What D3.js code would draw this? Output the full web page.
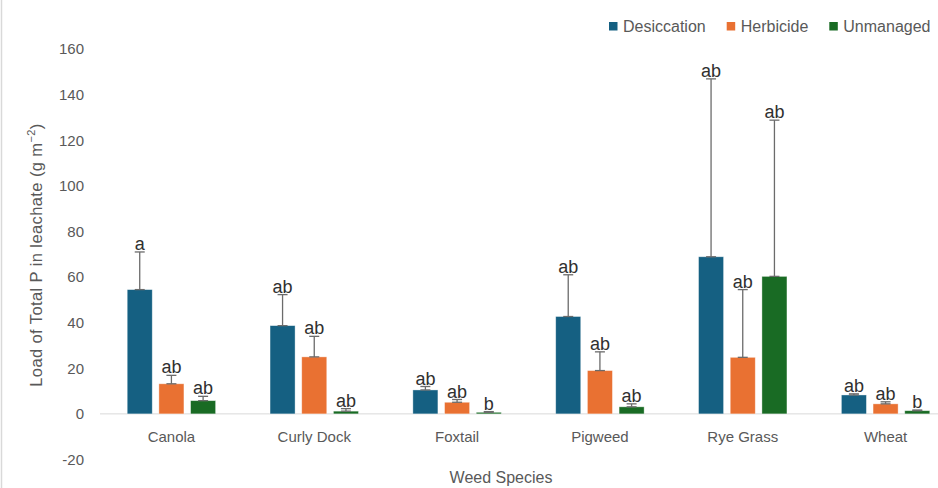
<!DOCTYPE html>
<html>
<head>
<meta charset="utf-8">
<script src="https://cdn.jsdelivr.net/npm/d3@7"></script>
<style>
  html, body { margin: 0; padding: 0; background: #fff; }
  svg { display: block; font-family: "Liberation Sans", Arial, sans-serif; }
</style>
</head>
<body>
<svg id="chart" width="938" height="488"></svg>
<script>
// ---- data ----
const categories = ["Canola", "Curly Dock", "Foxtail", "Pigweed", "Rye Grass", "Wheat"];
const seriesNames = ["Desiccation", "Herbicide", "Unmanaged"];
const desiccation = [54.5, 38.7, 10.5, 42.7, 68.9, 8.3];
const herbicide   = [13.2, 25.0, 5.1, 19.0, 24.8, 4.4];
const unmanaged   = [5.8, 1.2, 0.7, 3.1, 60.3, 1.4];
const desiccationErr = [16.5, 13.6, 1.5, 18.3, 78.0, 0.5];
const herbicideErr   = [3.7, 9.0, 1.2, 8.2, 29.7, 0.9];
const unmanagedErr   = [1.9, 1.1, 0.3, 1.3, 68.5, 0.3];
const desiccationLetters = ["a", "ab", "ab", "ab", "ab", "ab"];
const herbicideLetters   = ["ab", "ab", "ab", "ab", "ab", "ab"];
const unmanagedLetters   = ["ab", "ab", "b", "ab", "ab", "b"];
const yTicks = [-20, 0, 20, 40, 60, 80, 100, 120, 140, 160];
const colors = ["#156082", "#E97132", "#196B24"];

const series = [
  { name: seriesNames[0], values: desiccation, errs: desiccationErr, letters: desiccationLetters },
  { name: seriesNames[1], values: herbicide, errs: herbicideErr, letters: herbicideLetters },
  { name: seriesNames[2], values: unmanaged, errs: unmanagedErr, letters: unmanagedLetters }
];

const svg = d3.select("#chart");

// chart left border
svg.append("line").attr("x1", 1.5).attr("x2", 1.5).attr("y1", 0).attr("y2", 488)
  .attr("stroke", "#d9d9d9").attr("stroke-width", 1.5);

const y = d3.scaleLinear().domain([-20, 160]).range([459.5, 49]);
const x0 = d3.scaleBand().domain(categories).range([100, 957]).paddingInner(0.381).paddingOuter(0.1905);
const x1 = d3.scaleBand().domain(seriesNames).range([0, x0.bandwidth()]).paddingInner(0.21).paddingOuter(0);
const color = d3.scaleOrdinal().domain(seriesNames).range(colors);

// y axis labels
const yAxis = d3.axisLeft(y).tickValues(yTicks).tickFormat(d => String(d)).tickSize(0).tickPadding(0);
const yg = svg.append("g").attr("transform", "translate(84,0)").call(yAxis);
yg.select(".domain").remove();
yg.selectAll("text").attr("fill", "#595959").attr("font-size", 15)
  .attr("font-family", "'Liberation Sans', Arial, sans-serif");

// zero line
svg.append("line").attr("x1", 100).attr("x2", 938).attr("y1", y(0)).attr("y2", y(0))
  .attr("stroke", "#d9d9d9").attr("stroke-width", 1);

// bars
const groups = svg.append("g").selectAll("g").data(categories).join("g")
  .attr("transform", d => `translate(${x0(d)},0)`);

groups.each(function(cat, ci) {
  const g = d3.select(this);
  series.forEach(s => {
    const v = s.values[ci], e = s.errs[ci];
    const bx = x1(s.name), bw = x1.bandwidth(), cx = bx + bw / 2;
    g.append("rect").attr("x", bx).attr("width", bw)
      .attr("y", y(v)).attr("height", y(0) - y(v))
      .attr("fill", color(s.name)).attr("stroke", "#ffffff").attr("stroke-opacity", 0.5).attr("stroke-width", 0.75);
    const eg = g.append("g").attr("stroke", "#6b6b6b").attr("stroke-width", 1.3);
    eg.append("line").attr("x1", cx).attr("x2", cx).attr("y1", y(v)).attr("y2", y(v + e));
    eg.append("line").attr("x1", cx - 5).attr("x2", cx + 5).attr("y1", y(v + e)).attr("y2", y(v + e));
    eg.append("line").attr("x1", cx - 5).attr("x2", cx + 5).attr("y1", y(v)).attr("y2", y(v));
    g.append("text").attr("x", cx).attr("y", y(v + e) - 2)
      .attr("text-anchor", "middle").attr("font-size", 18).attr("fill", "#303030")
      .text(s.letters[ci]);
  });
});

// x axis category labels
const xAxis = d3.axisBottom(x0).tickSize(0).tickPadding(0);
const xg = svg.append("g").attr("transform", `translate(0,${y(0) + 17})`).call(xAxis);
xg.select(".domain").remove();
xg.selectAll("text").attr("fill", "#595959").attr("font-size", 15)
  .attr("font-family", "'Liberation Sans', Arial, sans-serif");

// axis titles
svg.append("text").attr("x", 501).attr("y", 483).attr("text-anchor", "middle")
  .attr("font-size", 16).attr("fill", "#595959").text("Weed Species");

const yt = svg.append("text").attr("transform", "translate(42,255) rotate(-90)")
  .attr("text-anchor", "middle").attr("font-size", 16.5).attr("letter-spacing", 0.4).attr("fill", "#595959");
yt.append("tspan").text("Load of Total P in leachate  (g m");
yt.append("tspan").attr("dy", -7).attr("font-size", 11).text("\u22122");
yt.append("tspan").attr("dy", 7).text(")");

// legend
const legend = svg.append("g");
let lx = 609;
series.forEach(s => {
  legend.append("rect").attr("x", lx).attr("y", 22).attr("width", 8.5).attr("height", 8.5).attr("fill", color(s.name));
  const t = legend.append("text").attr("x", lx + 14).attr("y", 31.5).attr("font-size", 16)
    .attr("fill", "#595959").text(s.name);
  lx += 14 + t.node().getComputedTextLength() + 21;
});
</script>
</body>
</html>
